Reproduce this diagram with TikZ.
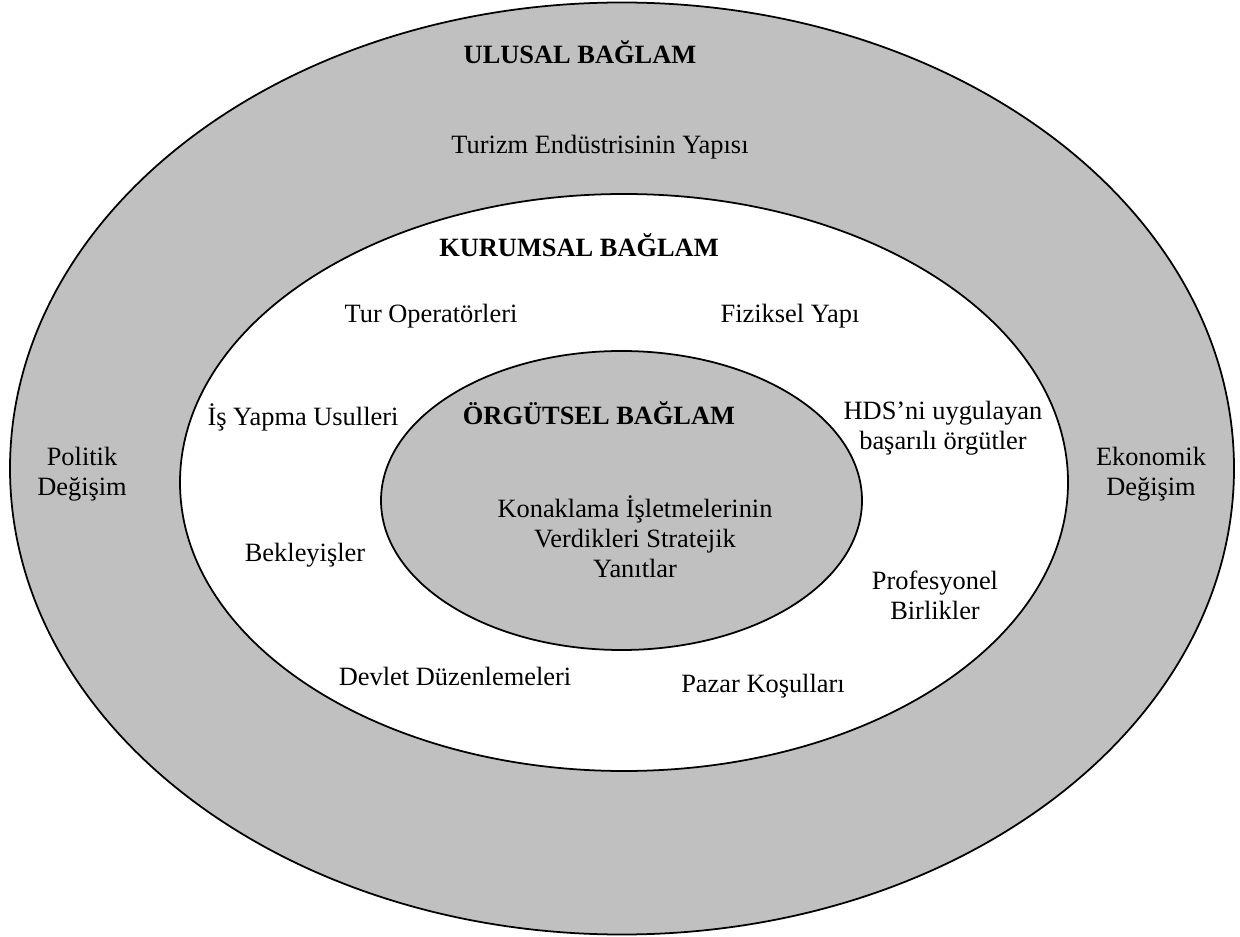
\documentclass[tikz,border=0pt]{standalone}
\usepackage{fontspec}
\setmainfont{Liberation Serif}
\definecolor{ringgray}{RGB}{192,192,192}

\begin{document}
\begin{tikzpicture}
	[x=0.4545pt,y=-0.4545pt,
	ring/.style={draw=black,line width=0.8pt,fill=ringgray},
	hole/.style={draw=black,line width=0.8pt,fill=white},
	txt/.style={align=center,inner sep=0pt,font=\fontsize{12}{13.6}\selectfont},
	head/.style={txt,font=\fontsize{12}{13.6}\selectfont\bfseries}]
	\useasboundingbox (0,0) rectangle (1240,937);
	% the three contexts
	\draw [ring] (622,468.5) ellipse [x radius=612,y radius=466];
	\draw [hole] (624,482.5) ellipse [x radius=444,y radius=288.5];
	\draw [ring] (621.5,500.5) ellipse [x radius=240.5,y radius=149.5];
	% outer ring
	\node (ulusal) at (580,52) [head] {ULUSAL BAĞLAM};
	\node (turizm) at (600,147) [txt] {Turizm Endüstrisinin Yapısı};
	\node (politik) at (82,474) [txt] {Politik\\Değişim};
	\node (ekonomik) at (1151,474) [txt] {Ekonomik\\Değişim};
	% middle ring
	\node (kurumsal) at (579,245) [head] {KURUMSAL BAĞLAM};
	\node (turop) at (431,316) [txt] {Tur Operatörleri};
	\node (fiziksel) at (790,316) [txt] {Fiziksel Yapı};
	\node (isyapma) at (303,417) [txt] {İş Yapma Usulleri};
	\node (hds) at (943,428) [txt] {HDS’ni uygulayan\\başarılı örgütler};
	\node (bekleyis) at (305,555) [txt] {Bekleyişler};
	\node (profesyonel) at (935,595) [txt] {Profesyonel\\Birlikler};
	\node (devlet) at (455,676) [txt] {Devlet Düzenlemeleri};
	\node (pazar) at (763,686) [txt] {Pazar Koşulları};
	% inner ellipse
	\node (orgutsel) at (599,413) [head] {ÖRGÜTSEL BAĞLAM};
	\node (konaklama) at (635,537) [txt] {Konaklama İşletmelerinin\\Verdikleri Stratejik\\Yanıtlar};
\end{tikzpicture}
\end{document}
